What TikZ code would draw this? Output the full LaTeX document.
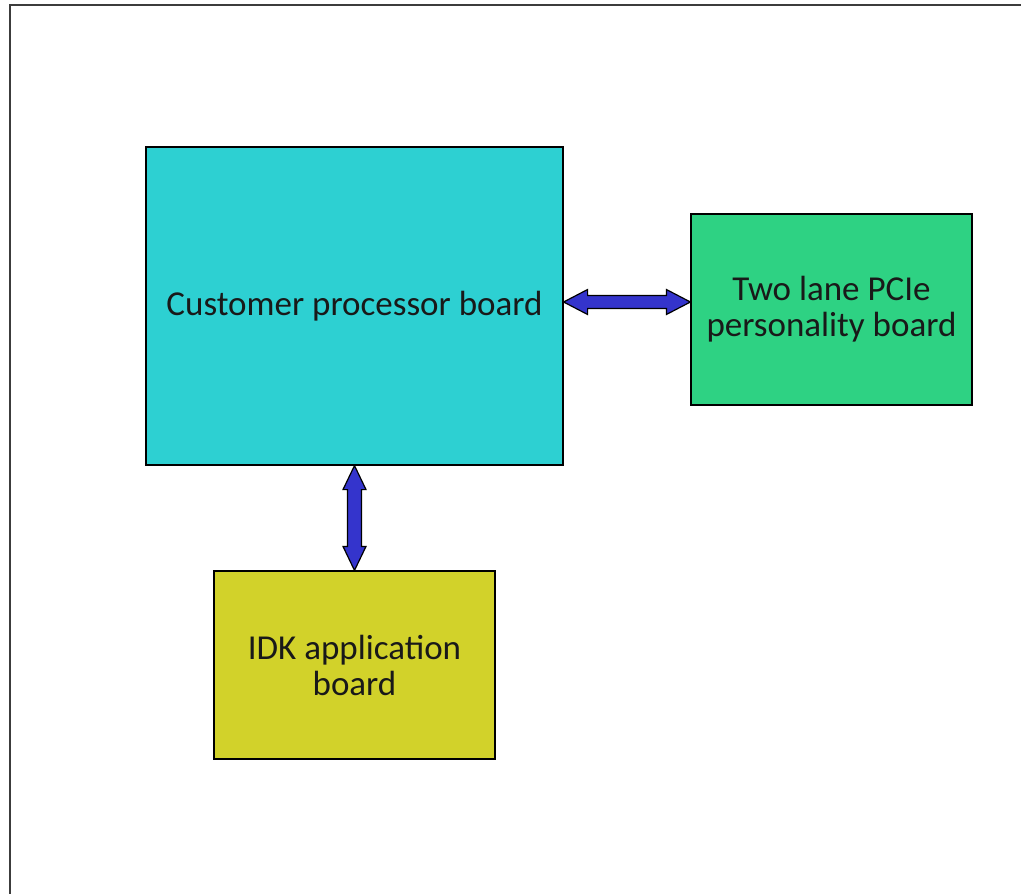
\documentclass[tikz,border=0pt]{standalone}
\usepackage{fontspec}
\setmainfont{Carlito}
\usetikzlibrary{calc}

\definecolor{boardcyan}{RGB}{45,208,210}
\definecolor{boardgreen}{RGB}{46,210,131}
\definecolor{boardyellow}{RGB}{210,210,42}
\definecolor{linkblue}{RGB}{52,52,204}
\definecolor{framegray}{RGB}{60,60,60}

\tikzset{
  board/.style={draw=black, line width=1.2pt, align=center, inner sep=0pt,
    font=\fontsize{35}{36}\selectfont, text=black!90},
  link/.style={draw=black, line width=1.2pt, fill=linkblue, line join=miter},
  frame/.style={draw=framegray, line width=2pt},
}

\begin{document}
\begin{tikzpicture}[x=1pt, y=-1pt]
  \useasboundingbox (0,0) rectangle (1021,894);
  % open frame: top and left edges
  \draw[frame] (10,894) -- (10,5) -- (1021,5);

  % boards
  \node[board, fill=boardcyan, minimum width=417pt, minimum height=318pt]
    (cust) at (354.5,306) {Customer processor board};
  \node[board, fill=boardgreen, minimum width=281pt, minimum height=191pt]
    (pcie) at (831.5,309.5) {Two lane PCIe\\personality board};
  \node[board, fill=boardyellow, minimum width=281pt, minimum height=188pt]
    (idk) at (354.5,665) {IDK application\\board};

  % horizontal double-headed link
  \coordinate (ha) at ([yshift=4pt]cust.east);
  \coordinate (hb) at (pcie.west |- ha);
  \draw[link] (ha) -- ($(ha)+(24pt,12.5pt)$) -- ($(ha)+(24pt,6.5pt)$)
    -- ($(hb)+(-24pt,6.5pt)$) -- ($(hb)+(-24pt,12.5pt)$) -- (hb)
    -- ($(hb)+(-24pt,-12.5pt)$) -- ($(hb)+(-24pt,-6.5pt)$)
    -- ($(ha)+(24pt,-6.5pt)$) -- ($(ha)+(24pt,-12.5pt)$) -- cycle;

  % vertical double-headed link
  \coordinate (va) at (cust.south);
  \coordinate (vb) at (idk.north);
  \draw[link] (va) -- ($(va)+(11.5pt,-24pt)$) -- ($(va)+(7pt,-24pt)$)
    -- ($(vb)+(7pt,24pt)$) -- ($(vb)+(11.5pt,24pt)$) -- (vb)
    -- ($(vb)+(-11.5pt,24pt)$) -- ($(vb)+(-7pt,24pt)$)
    -- ($(va)+(-7pt,-24pt)$) -- ($(va)+(-11.5pt,-24pt)$) -- cycle;
\end{tikzpicture}
\end{document}
